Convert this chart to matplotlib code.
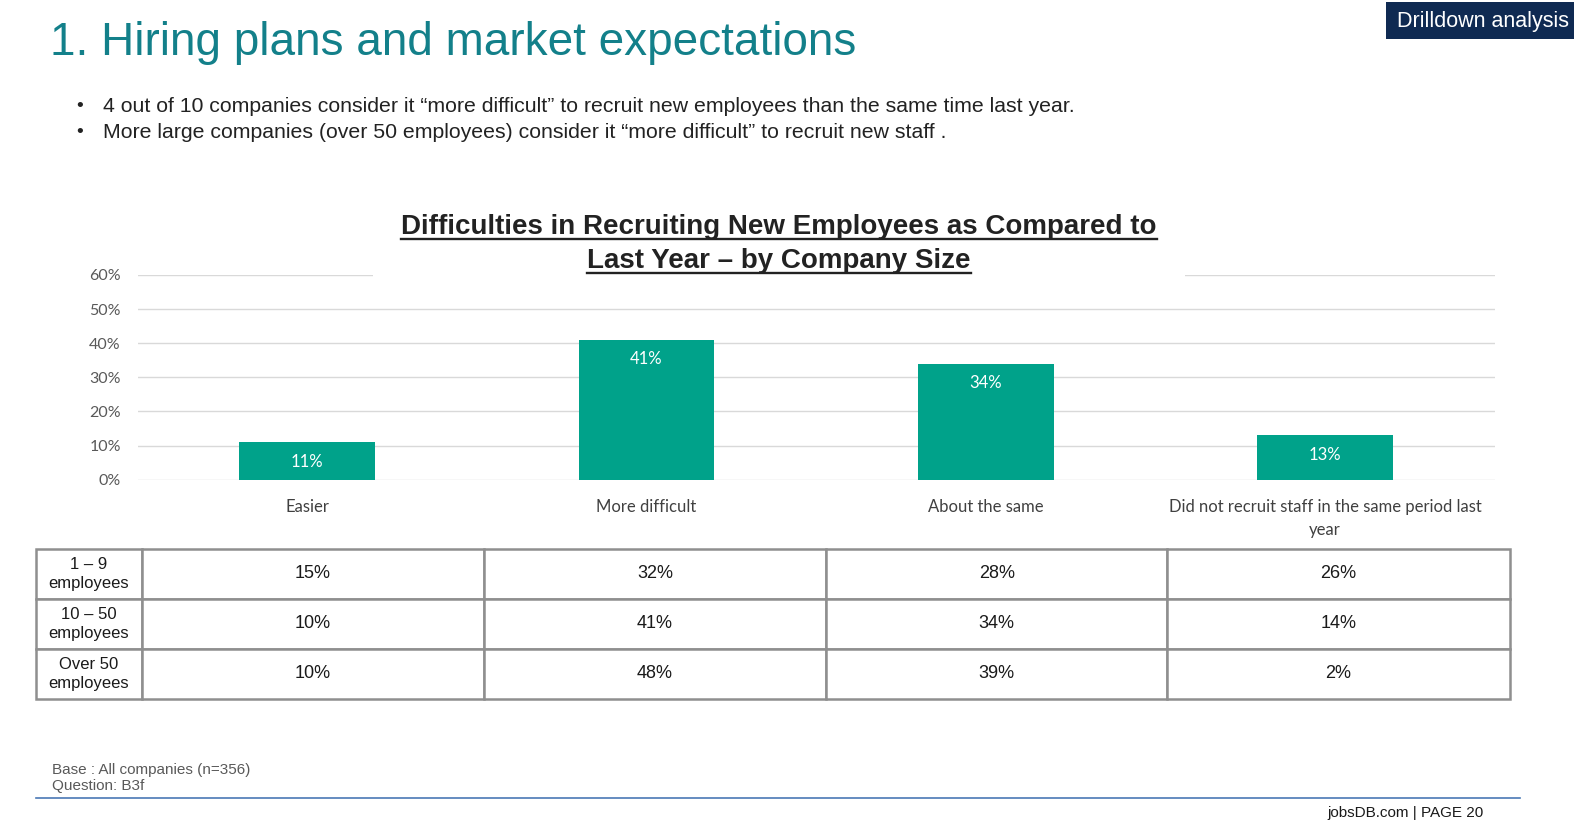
import matplotlib
matplotlib.use('Agg')
import matplotlib.pyplot as plt
from matplotlib.patches import Rectangle
from matplotlib.lines import Line2D
from matplotlib import font_manager

# data
categories = ['Easier', 'More difficult', 'About the same',
              'Did not recruit staff in the same period last\nyear']
overall = [11, 41, 34, 13]
size_groups = ['1 – 9\nemployees', '10 – 50\nemployees', 'Over 50\nemployees']
small_co = [15, 32, 28, 26]
mid_co = [10, 41, 34, 14]
large_co = [10, 48, 39, 2]
y_ticks = [0, 10, 20, 30, 40, 50, 60]

W, H = 1574, 830
names = {f.name for f in font_manager.fontManager.ttflist}
arial = 'Liberation Sans'
narrow = 'Liberation Sans Narrow' if 'Liberation Sans Narrow' in names else arial
calibri = 'Lato'

# positions measured on a 1568x827 view of the slide
def fx(px):
    return px / 1568

def fy(py):
    return 1 - py / 827

fig = plt.figure(figsize=(W / 100, H / 100), dpi=100)
fig.patch.set_facecolor('white')

# page header
fig.text(fx(50), fy(55), '1. Hiring plans and market expectations', fontsize=33,
         color='#13808a', family=arial, va='baseline')
fig.patches.append(Rectangle((fx(1381), fy(39)), fx(1568) - fx(1381), fy(2) - fy(39),
                             transform=fig.transFigure, facecolor='#0f2a52', edgecolor='none'))
fig.text(fx(1477), fy(21), 'Drilldown analysis', fontsize=15.5, color='white',
         family=arial, ha='center', va='center')

bullets = ['4 out of 10 companies consider it “more difficult” to recruit new employees than the same time last year.',
           'More large companies (over 50 employees) consider it “more difficult” to recruit new staff .']
for i, b in enumerate(bullets):
    yy = 106 + i * 26
    fig.text(fx(76), fy(yy), '•', fontsize=14, color='#222222', family=arial, va='center')
    fig.text(fx(103), fy(yy), b, fontsize=15.3, color='#222222', family=arial, va='center')

# bar chart
ax = fig.add_axes([fx(137), fy(478), fx(1489) - fx(137), fy(274) - fy(478)])
x = range(len(categories))
bars = ax.bar(x, overall, width=0.4, color='#00a28a', zorder=2)
for rect, v in zip(bars, overall):
    ax.annotate(f'{v}%', (rect.get_x() + rect.get_width() / 2, v), xytext=(0, -14),
                textcoords='offset points', ha='center', va='center', color='white',
                fontsize=12, family=calibri)
ax.set_xlim(-0.5, 3.5)
ax.set_ylim(0, 60)
ax.set_yticks(y_ticks)
ax.set_yticklabels([f'{t}%' for t in y_ticks], color='#595959', fontsize=11.5, family=calibri)
ax.set_xticks(list(x))
ax.set_xticklabels(categories, color='#404040', fontsize=12, family=calibri, linespacing=1.5)
ax.tick_params(axis='both', length=0)
ax.tick_params(axis='x', pad=14)
ax.tick_params(axis='y', pad=12)
ax.grid(axis='y', color='#d9d9d9', linewidth=1, zorder=0)
for s in ax.spines.values():
    s.set_visible(False)

# chart title, sitting on a white patch over the top gridline
fig.patches.append(Rectangle((fx(372), fy(282)), fx(1180) - fx(372), fy(200) - fy(282),
                             transform=fig.transFigure, facecolor='white', edgecolor='none', zorder=5))
title_lines = ['Difficulties in Recruiting New Employees as Compared to', 'Last Year – by Company Size']
title_texts = []
for i, t in enumerate(title_lines):
    yy = 233 + i * 34
    title_texts.append(fig.text(fx(776), fy(yy), t, fontsize=20, fontweight='bold', color='#222222',
                                family=narrow, ha='center', va='baseline', zorder=6))

# table by company size
tax = fig.add_axes([fx(36), fy(696), fx(1504) - fx(36), fy(547) - fy(696)])
tax.axis('off')
rows = [small_co, mid_co, large_co]
cell_text = [[g] + [f'{v}%' for v in r] for g, r in zip(size_groups, rows)]
tbl = tax.table(cellText=cell_text, cellLoc='center', bbox=[0, 0, 1, 1],
                colWidths=[105, 341, 341, 340, 341])
tbl.auto_set_font_size(False)
for (r, c), cell in tbl.get_celld().items():
    cell.set_edgecolor('#8f8f8f')
    cell.set_linewidth(1.8)
    txt = cell.get_text()
    txt.set_family(arial)
    txt.set_color('#1a1a1a')
    txt.set_fontsize(12 if c == 0 else 13)
    if c == 0:
        txt.set_linespacing(1.35)

# footer
fig.text(fx(52), fy(767), 'Base : All companies (n=356)', fontsize=11, color='#595959',
         family=narrow, va='center')
fig.text(fx(52), fy(783), 'Question: B3f', fontsize=11, color='#595959', family=narrow, va='center')
fig.add_artist(Line2D([fx(36), fx(1514)], [fy(795), fy(795)], color='#4a78b5', linewidth=1.2))
fig.text(fx(1478), fy(810), 'jobsDB.com | PAGE 20', fontsize=11, color='#1a1a1a',
         family=narrow, ha='right', va='center')

# underline the chart title
fig.canvas.draw()
r = fig.canvas.get_renderer()
for i, t in enumerate(title_texts):
    bb = t.get_window_extent(r)
    yy = 238 + i * 34
    fig.add_artist(Line2D([bb.x0 / W, bb.x1 / W], [fy(yy), fy(yy)], color='#222222',
                          linewidth=1.7, zorder=7))

fig.savefig('out.png', dpi=100)
